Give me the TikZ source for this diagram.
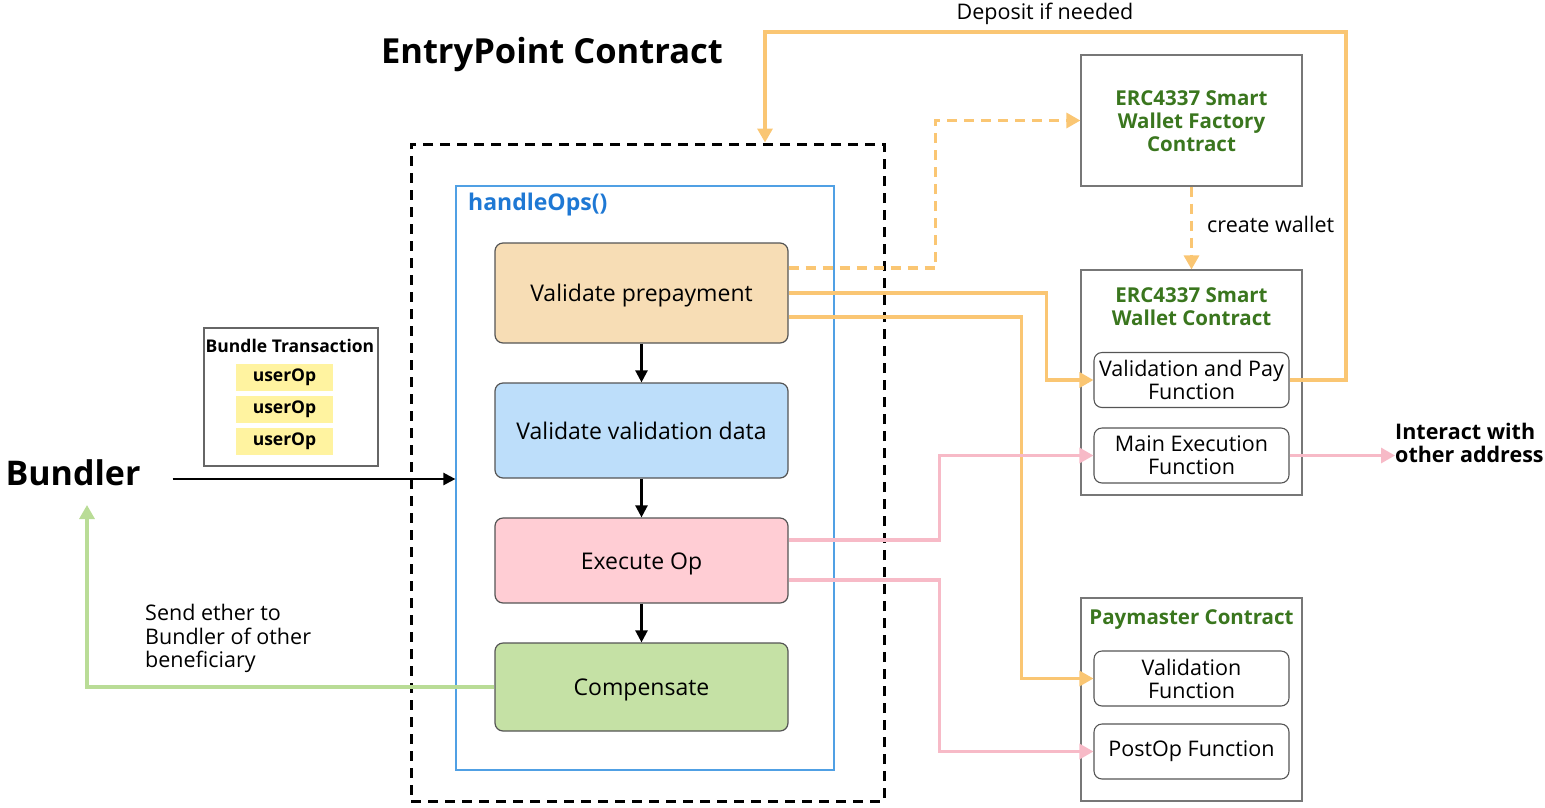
\documentclass[tikz,border=0pt]{standalone}
\usepackage{fontspec}
\setmainfont{Open Sans}
\usetikzlibrary{arrows.meta,calc}
\definecolor{peach}{RGB}{247,221,181}
\definecolor{skyfill}{RGB}{189,222,250}
\definecolor{rosefill}{RGB}{255,205,212}
\definecolor{leaffill}{RGB}{197,225,165}
\definecolor{boxline}{RGB}{85,85,85}
\definecolor{orangeline}{RGB}{250,198,115}
\definecolor{pinkline}{RGB}{247,186,199}
\definecolor{greenline}{RGB}{185,220,150}
\definecolor{handleblue}{RGB}{80,160,228}
\definecolor{handletext}{RGB}{30,120,212}
\definecolor{titlegreen}{RGB}{58,118,30}
\definecolor{opyellow}{RGB}{255,243,160}
\begin{document}
\begin{tikzpicture}[x=1pt,y=-1pt,
  stepbox/.style={draw=boxline, line width=1.2pt, rounded corners=8pt,
    minimum width=293pt, inner sep=0pt, text height=17pt, text depth=0pt,
    font=\fontsize{23}{27}\selectfont},
  fnbox/.style={draw=boxline, line width=1.1pt, rounded corners=8pt,
    minimum width=195pt, minimum height=55pt, inner sep=0pt, align=center,
    font=\fontsize{21.5}{23}\selectfont},
  contract/.style={draw=boxline!80, line width=1.2pt, minimum width=221pt, inner sep=0pt},
  ctitle/.style={text=titlegreen, align=center, font=\fontsize{20.5}{23}\selectfont\bfseries},
  opbox/.style={fill=opyellow, minimum width=97pt, minimum height=27pt, inner sep=0pt,
    font=\fontsize{17.5}{19}\selectfont\bfseries},
  flow/.style={-{Triangle[length=12pt,width=12pt]}, line width=2.4pt},
  wire/.style={draw=#1, -{Triangle[length=14pt,width=15pt]}, line width=3.2pt},
  note/.style={font=\fontsize{21.5}{23.5}\selectfont, inner sep=0pt}
]
\useasboundingbox (0,0) rectangle (1545,807);

% EntryPoint contract frame and the handleOps() routine inside it
\node[draw, line width=3pt, dash pattern=on 10pt off 7pt,
  minimum width=473pt, minimum height=657pt] (outer) at (647.5,472.5) {};
\node[font=\fontsize{34.5}{40}\selectfont\bfseries] (eptitle) at (552,55) {EntryPoint Contract};
\node[draw=handleblue, line width=1.2pt, minimum width=378pt, minimum height=584pt] (ho) at (645,478) {};
\node[anchor=west, text=handletext, font=\fontsize{23}{27}\selectfont\bfseries, inner sep=0pt]
  (hotitle) at (468,205) {handleOps()};

% the four steps
\node[stepbox, fill=peach, minimum height=100pt] (vp) at (641.5,293) {Validate prepayment};
\node[stepbox, fill=skyfill, minimum height=95pt] (vv) at (641.5,430.5) {Validate validation data};
\node[stepbox, fill=rosefill, minimum height=85pt] (ex) at (641.5,560.5) {Execute Op};
\node[stepbox, fill=leaffill, minimum height=88pt] (cp) at (641.5,687) {Compensate};
\draw[flow] (vp) -- (vv);
\draw[flow] (vv) -- (ex);
\draw[flow] (ex) -- (cp);

% bundler and its bundle
\node[font=\fontsize{34}{40}\selectfont\bfseries, inner sep=0pt] (bundler) at (73,473) {Bundler};
\node[draw=boxline!90, line width=1.2pt, minimum width=174pt, minimum height=138pt] (bt) at (291,397) {};
\node[font=\fontsize{17.5}{19}\selectfont\bfseries, inner sep=0pt] (bttitle) at (290,346) {Bundle Transaction};
\node[opbox] (u1) at (284.5,377.5) {userOp};
\node[opbox] (u2) at (284.5,409) {userOp};
\node[opbox] (u3) at (284.5,441) {userOp};
\draw[flow] ($(bundler.east)+(32,6)$) -- ($(ho.west)+(0,1)$);

% compensation back to the bundler
\coordinate (gtip) at (87,505);
\draw[wire=greenline] (cp.west) -| (gtip);
\node[note, anchor=north west, align=left] (sendlbl) at (145,604)
  {Send ether to\\Bundler of other\\beneficiary};

% wallet factory
\node[contract, minimum height=131pt] (fac) at (1191.5,120.5) {};
\node[ctitle] (factitle) at (1191.5,121) {ERC4337 Smart\\Wallet Factory\\Contract};

% smart wallet
\node[contract, minimum height=225pt] (sw) at (1191.5,382.5) {};
\node[ctitle] (swtitle) at (1191.5,307) {ERC4337 Smart\\Wallet Contract};
\node[fnbox] (vpf) at (1191.5,380) {Validation and Pay\\Function};
\node[fnbox] (mef) at (1191.5,455.5) {Main Execution\\Function};

% paymaster
\node[contract, minimum height=203pt] (pm) at (1191.5,699.5) {};
\node[ctitle] (pmtitle) at (1191.5,620) {Paymaster Contract};
\node[fnbox] (vf) at (1191.5,678.5) {Validation\\Function};
\node[fnbox] (pof) at (1191.5,751.5) {PostOp Function};

% wallet creation (dashed)
\draw[wire=orangeline, dash pattern=on 10pt off 7pt]
  ($(vp.east)+(0,-25)$) -- ++(147,0) |- (fac.west);
\draw[wire=orangeline, dash pattern=on 10pt off 7pt]
  (fac.south) -- (sw.north);
\node[note, anchor=west] (cwlbl) at (1207,224) {create wallet};

% validation calls
\draw[wire=orangeline] (vp.east) -| ($(vpf.west)+(-47,0)$) -- (vpf.west);
\draw[wire=orangeline] ($(vp.east)+(0,24)$) -| ($(vf.west)+(-72,0)$) -- (vf.west);

% deposit back into the entry point
\coordinate (dep) at (1346,32);
\draw[wire=orangeline] (vpf.east) -| (dep) -| ($(outer.north)+(117.5,0)$);
\node[note] (deplbl) at (1045,14) {Deposit if needed};

% execution calls
\draw[wire=pinkline] ($(ex.east)+(0,-20.5)$) -| ($(mef.west)+(-154,0)$) -- (mef.west);
\draw[wire=pinkline] ($(ex.east)+(0,19.5)$) -| ($(pof.west)+(-154,0)$) -- (pof.west);
\node[anchor=west, align=left, inner sep=0pt, font=\fontsize{21.5}{23}\selectfont\bfseries]
  (inter) at (1395,443) {Interact with\\other address};
\draw[wire=pinkline] (mef.east) -- (mef.east -| inter.west);
\end{tikzpicture}
\end{document}
